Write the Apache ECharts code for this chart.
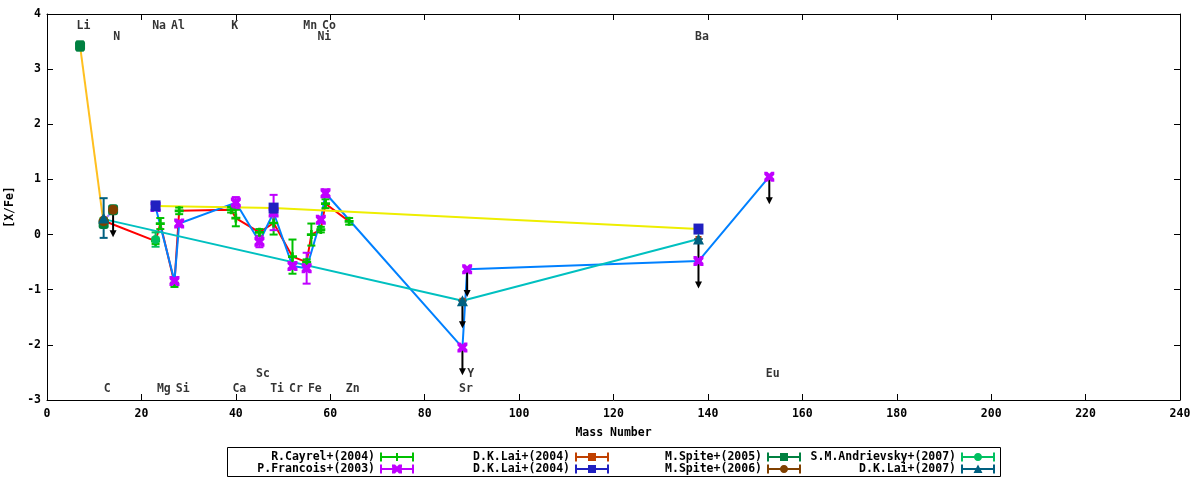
<!DOCTYPE html>
<html>
<head>
<meta charset="utf-8">
<script src="https://cdn.jsdelivr.net/npm/echarts@6/dist/echarts.min.js"></script>
<style>
  html, body { margin: 0; padding: 0; background: #fff; }
  #chart { width: 1200px; height: 480px; }
</style>
</head>
<body>
<div id="chart"></div>
<script>
// abundance pattern, [X/Fe] vs mass number

// R.Cayrel+(2004)
const cayrelMass = [12, 23, 24, 27, 28, 39, 40, 45, 48, 52, 55, 56, 58, 59, 64];
const cayrelVal  = [0.25, -0.12, 0.2, -0.88, 0.43, 0.45, 0.3, 0.04, 0.21, -0.4, -0.5, 0.0, 0.09, 0.56, 0.24];
const cayrelErr  = [0.05, 0.05, 0.1, 0.07, 0.06, 0.05, 0.15, 0.06, 0.21, 0.31, 0.05, 0.2, 0.05, 0.08, 0.06];

// P.Francois+(2003)
const francoisMass = [23, 27, 28, 40, 45, 48, 52, 55, 58, 59];
const francoisVal  = [0.5, -0.84, 0.2, 0.58, -0.13, 0.4, -0.57, -0.61, 0.27, 0.75];
const francoisErr  = [0.05, 0.05, 0.05, 0.1, 0.1, 0.32, 0.05, 0.28, 0.05, 0.07];
const francoisLimMass = [88, 89, 138, 153];
const francoisLimVal  = [-2.05, -0.63, -0.48, 1.05];

// D.K.Lai+(2004) (first set)
const laiAMass = [12, 88, 138];
const laiAVal  = [0.28, -1.2, -0.08];

// D.K.Lai+(2004) (second set)
const laiBMass = [23, 48, 138];
const laiBVal  = [0.52, 0.48, 0.1];

// M.Spite+(2005)
const spite05Mass = [7, 12, 14];
const spite05Val  = [3.42, 0.2, 0.45];
const spite05Err  = [0.08, 0, 0];

// M.Spite+(2006)
const spite06Mass = [12, 14];
const spite06Val  = [0.24, 0.45];

// S.M.Andrievsky+(2007)
const andrMass = [23];
const andrVal  = [-0.09];
const andrErr  = [0.13];

// D.K.Lai+(2007)
const lai07Mass = [12, 88, 138];
const lai07Val  = [0.3, -1.2, -0.08];
const lai07Err  = [0.36, 0, 0];

// upper limits (arrows)
const limitMass = [14, 88, 88, 89, 138, 138, 153];
const limitVal  = [0.45, -2.05, -1.2, -0.63, -0.48, -0.08, 1.05];

// element labels
const elemNames = ['Li', 'Na', 'Al', 'K', 'Mn', 'Co', 'N', 'Ni', 'Ba',
                   'C', 'Mg', 'Si', 'Ca', 'Ti', 'Cr', 'Fe', 'Zn', 'Sr', 'Sc', 'Y', 'Eu'];
const elemMass  = [7, 23, 27, 39, 55, 59, 14, 58, 138,
                   12, 24, 28, 40, 48, 52, 56, 64, 88, 45, 89, 153];
const elemRowY  = [3.78, 3.78, 3.78, 3.78, 3.78, 3.78, 3.58, 3.58, 3.58,
                   -2.8, -2.8, -2.8, -2.8, -2.8, -2.8, -2.8, -2.8, -2.8, -2.53, -2.53, -2.53];

const xTicks = [0, 240, 20];
const yTicks = [-3, 4, 1];

const FONT = 'DejaVu Sans Mono';

function zip(a, b) { return a.map((v, i) => [v, b[i]]); }
function errData(m, v, e) { return m.map((x, i) => [x, v[i] - e[i], v[i] + e[i]]); }
function byMass(m, v) { return zip(m, v).sort((p, q) => p[0] - q[0]); }

// marker paths
const P_PLUS = 'path://M3.5,0H6.5V3.5H10V6.5H6.5V10H3.5V6.5H0V3.5H3.5Z';
const P_X = 'path://M0,0L3,0L5,2L7,0L10,0L10,3L8,5L10,7L10,10L7,10L5,8L3,10L0,10L0,7L2,5L0,3Z';

// legend samples: line with end caps + marker
const base = 'M0,3.5H34V5.5H0Z M0,0H2V9H0Z M32,0H34V9H32Z ';
const L_PLUS = 'path://' + base + 'M16,0.5H18V8.5H16Z M13,3.5H21V5.5H13Z';
const L_X = 'path://' + base + 'M12,0L15,0L17,2L19,0L22,0L22,3L20,4.5L22,6L22,9L19,9L17,7L15,9L12,9L12,6L14,4.5L12,3Z';
const L_BOX = 'path://' + base + 'M13,0.5H21V8.5H13Z';
const L_CIRC = 'path://' + base + 'M17,0.5C19.5,0.5 21,2.2 21,4.5C21,6.8 19.5,8.5 17,8.5C14.5,8.5 13,6.8 13,4.5C13,2.2 14.5,0.5 17,0.5Z';
const L_TRI = 'path://' + base + 'M17,0L21.5,8.5H12.5Z';

function renderErr(params, api) {
  const x = api.value(0);
  const lo = api.coord([x, api.value(1)]);
  const hi = api.coord([x, api.value(2)]);
  const st = { stroke: api.visual('color'), lineWidth: 2 };
  const hw = 4;
  return {
    type: 'group',
    children: [
      { type: 'line', shape: { x1: lo[0], y1: lo[1], x2: hi[0], y2: hi[1] }, style: st },
      { type: 'line', shape: { x1: lo[0] - hw, y1: lo[1], x2: lo[0] + hw, y2: lo[1] }, style: st },
      { type: 'line', shape: { x1: hi[0] - hw, y1: hi[1], x2: hi[0] + hw, y2: hi[1] }, style: st }
    ]
  };
}

function renderArrow(params, api) {
  const x = api.value(0);
  const p0 = api.coord([x, api.value(1)]);
  const p1 = api.coord([x, api.value(1) - 0.5]);
  return {
    type: 'group',
    children: [
      { type: 'line', shape: { x1: p0[0], y1: p0[1], x2: p1[0], y2: p1[1] - 4 }, style: { stroke: '#000', lineWidth: 2 } },
      { type: 'polygon', shape: { points: [[p1[0] - 3.5, p1[1] - 7], [p1[0] + 3.5, p1[1] - 7], [p1[0], p1[1]]] }, style: { fill: '#000' } }
    ]
  };
}

function lineSeries(data, color) {
  return {
    type: 'line', data: data, symbol: 'none', z: 2, silent: true,
    lineStyle: { color: color, width: 2 }
  };
}
function errSeries(data, color) {
  return {
    type: 'custom', data: data, renderItem: renderErr, z: 3, silent: true,
    itemStyle: { color: color }, encode: { x: 0, y: [1, 2] }
  };
}
function pointSeries(name, data, color, symbol, size) {
  return {
    name: name, type: 'scatter', data: data, symbol: symbol, symbolSize: size, z: 4,
    itemStyle: { color: color, opacity: 1 }
  };
}

const francoisLine = byMass(francoisMass.concat(francoisLimMass), francoisVal.concat(francoisLimVal));

const series = [
  // lines
  lineSeries(byMass(cayrelMass, cayrelVal), '#ff0000'),
  lineSeries(francoisLine, '#0080ff'),
  lineSeries(byMass(laiAMass, laiAVal), '#00c0c0'),
  lineSeries(byMass(laiBMass, laiBVal), '#eeee00'),
  lineSeries(zip(spite05Mass.slice(0, 2), spite05Val.slice(0, 2)), '#ffc020'),
  lineSeries(byMass(spite06Mass, spite06Val), '#a080ff'),

  // R.Cayrel
  errSeries(errData(cayrelMass, cayrelVal, cayrelErr), '#00c000'),
  pointSeries('R.Cayrel+(2004)', zip(cayrelMass, cayrelVal), '#00c000', P_PLUS, 9),
  // P.Francois
  errSeries(errData(francoisMass, francoisVal, francoisErr), '#c000ff'),
  pointSeries('P.Francois+(2003)', zip(francoisMass, francoisVal).concat(zip(francoisLimMass, francoisLimVal)), '#c000ff', P_X, 10),
  // D.K.Lai 2004 a/b
  pointSeries('D.K.Lai+(2004)|a', zip(laiAMass, laiAVal), '#c04000', 'rect', 6),
  pointSeries('D.K.Lai+(2004)|b', zip(laiBMass, laiBVal), '#2020c0', 'rect', [10, 11]),
  // M.Spite 2005
  errSeries(errData(spite05Mass, spite05Val, spite05Err), '#008040'),
  pointSeries('M.Spite+(2005)', zip(spite05Mass, spite05Val), '#008040', 'roundRect', [10, 11]),
  // M.Spite 2006
  pointSeries('M.Spite+(2006)', zip(spite06Mass, spite06Val), '#804000', 'circle', 10),
  // S.M.Andrievsky
  errSeries(errData(andrMass, andrVal, andrErr), '#00c060'),
  pointSeries('S.M.Andrievsky+(2007)', zip(andrMass, andrVal), '#00c060', 'circle', 9),
  // D.K.Lai 2007
  errSeries(errData(lai07Mass, lai07Val, lai07Err), '#006080'),
  pointSeries('D.K.Lai+(2007)', zip(lai07Mass, lai07Val), '#006080', 'triangle', 11),

  // upper limit arrows
  {
    type: 'custom', data: zip(limitMass, limitVal), renderItem: renderArrow, z: 3, silent: true,
    encode: { x: 0, y: 1 }
  },

  // element labels
  {
    type: 'scatter', symbolSize: 0, silent: true, z: 5,
    data: elemNames.map((n, i) => ({ name: n, value: [elemMass[i], elemRowY[i]] })),
    label: {
      show: true, position: 'inside', offset: [3.5, 0], formatter: p => p.name,
      fontFamily: FONT, fontWeight: 'bold', fontSize: 11.5, color: '#000'
    }
  }
];

function legendCol(names, icons, right) {
  return {
    orient: 'vertical', align: 'right', right: right, top: 451, padding: 0,
    itemWidth: 34, itemHeight: 9, itemGap: 0, selectedMode: false,
    data: names.map((n, i) => ({ name: n, icon: icons[i] })),
    formatter: n => n.split('|')[0],
    textStyle: { fontFamily: FONT, fontWeight: 'bold', fontSize: 11.5, color: '#000', lineHeight: 12 }
  };
}

const axisCommon = {
  axisLine: { show: true, onZero: false, lineStyle: { color: '#000', width: 1 } },
  axisTick: { show: true, inside: true, length: 6, lineStyle: { color: '#000' } },
  splitLine: { show: false }
};

const option = {
  animation: false,
  backgroundColor: '#fff',
  grid: { left: 47, right: 20, top: 14, bottom: 80, outerBoundsMode: 'none', containLabel: false },
  xAxis: [
    Object.assign({}, axisCommon, {
      type: 'value', position: 'bottom', min: xTicks[0], max: xTicks[1], interval: xTicks[2],
      name: 'Mass Number', nameLocation: 'middle', nameGap: 27,
      nameTextStyle: { fontFamily: FONT, fontWeight: 'bold', fontSize: 11.5, color: '#000' },
      axisLabel: { margin: 8, fontFamily: FONT, fontWeight: 'bold', fontSize: 11.5, color: '#000' }
    }),
    Object.assign({}, axisCommon, {
      type: 'value', position: 'top', min: xTicks[0], max: xTicks[1], interval: xTicks[2],
      axisLabel: { show: false }
    })
  ],
  yAxis: [
    Object.assign({}, axisCommon, {
      type: 'value', position: 'left', min: yTicks[0], max: yTicks[1], interval: yTicks[2],
      name: '[X/Fe]', nameLocation: 'middle', nameGap: 26, nameRotate: 90,
      nameTextStyle: { fontFamily: FONT, fontWeight: 'bold', fontSize: 11.5, color: '#000' },
      axisLabel: { margin: 6, fontFamily: FONT, fontWeight: 'bold', fontSize: 11.5, color: '#000' }
    }),
    Object.assign({}, axisCommon, {
      type: 'value', position: 'right', min: yTicks[0], max: yTicks[1], interval: yTicks[2],
      axisLabel: { show: false }
    })
  ],
  legend: [
    legendCol(['R.Cayrel+(2004)', 'P.Francois+(2003)'], [L_PLUS, L_X], 786),
    legendCol(['D.K.Lai+(2004)|a', 'D.K.Lai+(2004)|b'], [L_BOX, L_BOX], 591),
    legendCol(['M.Spite+(2005)', 'M.Spite+(2006)'], [L_BOX, L_CIRC], 399),
    legendCol(['S.M.Andrievsky+(2007)', 'D.K.Lai+(2007)'], [L_CIRC, L_TRI], 205)
  ],
  graphic: [
    { type: 'rect', shape: { x: 227.5, y: 447.5, width: 773, height: 29 }, style: { fill: 'none', stroke: '#000', lineWidth: 1 }, silent: true }
  ],
  series: series
};

const chart = echarts.init(document.getElementById('chart'));
chart.setOption(option);
</script>
</body>
</html>
